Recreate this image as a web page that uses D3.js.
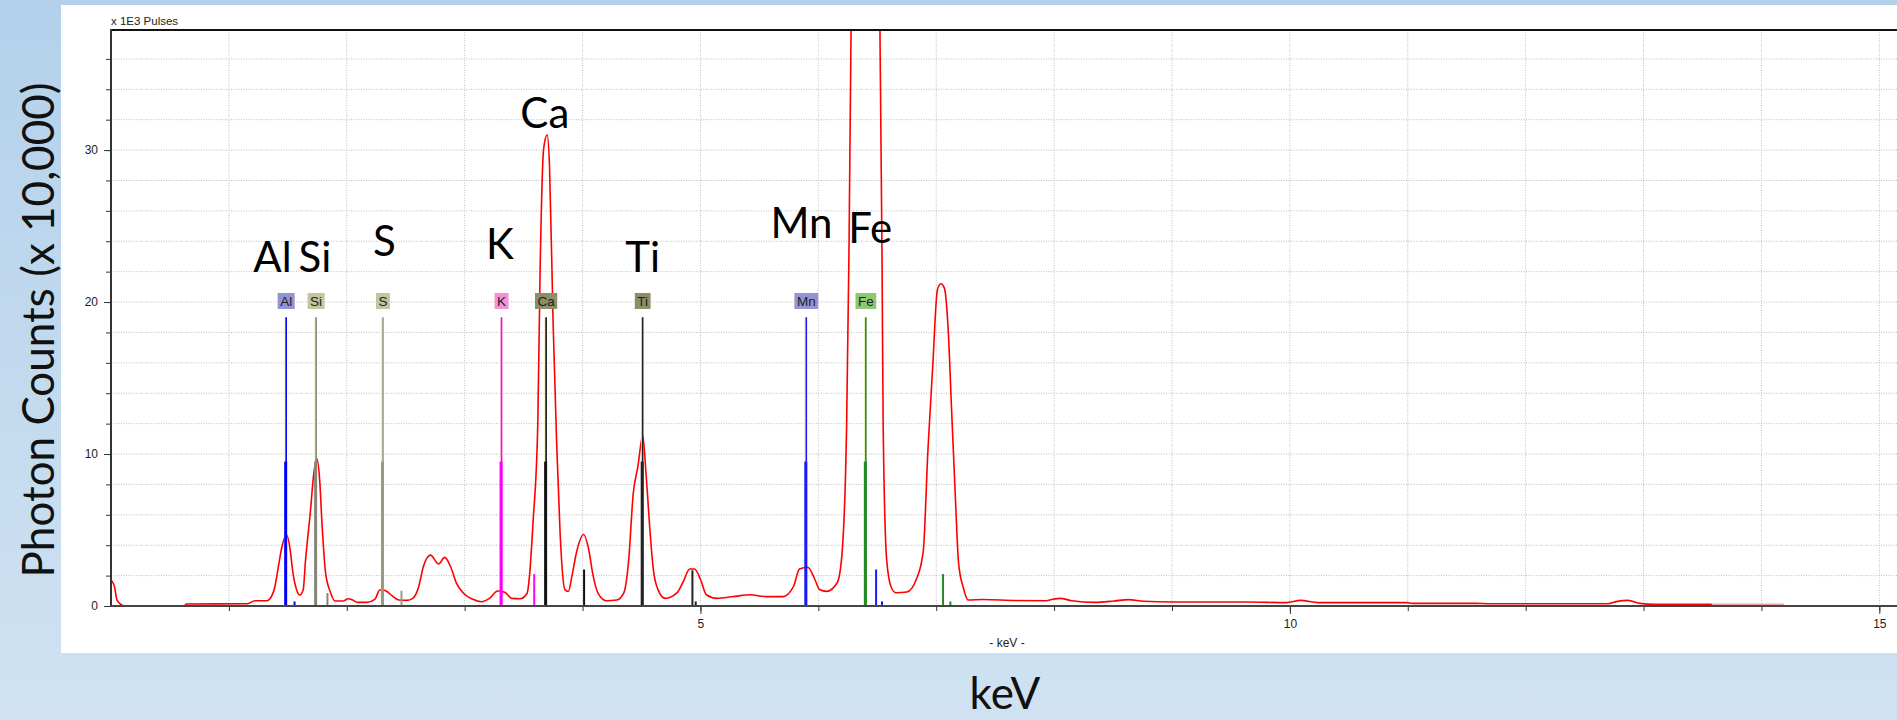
<!DOCTYPE html>
<html>
<head>
<meta charset="utf-8">
<script src="https://cdn.jsdelivr.net/npm/d3@7"></script>
<style>
  html, body { margin: 0; padding: 0; }
  body { width: 1897px; height: 720px; overflow: hidden; background: linear-gradient(#b3d1eb, #d0e2f2); }
  svg { display: block; }
</style>
</head>
<body>
<svg id="chart" width="1897" height="720"></svg>
<script>
'use strict';

// EDS spectrum, energy in keV, counts in x 1E3 pulses
const spectrumKeV = [
  0.00, 0.03, 0.05, 0.09, 0.12, 0.62, 0.64, 1.16, 1.22, 1.32,
  1.35, 1.39, 1.42, 1.45, 1.49, 1.52, 1.54, 1.58, 1.60, 1.63,
  1.65, 1.69, 1.72, 1.745, 1.77, 1.79, 1.82, 1.86, 1.90, 1.97,
  2.01, 2.05, 2.09, 2.17, 2.24, 2.28, 2.31, 2.34, 2.38, 2.44,
  2.51, 2.56, 2.61, 2.65, 2.71, 2.78, 2.83, 2.88, 2.93, 2.99,
  3.07, 3.14, 3.21, 3.28, 3.34, 3.40, 3.47, 3.53, 3.55, 3.58,
  3.62, 3.64, 3.67, 3.70, 3.72, 3.75, 3.78, 3.81, 3.85, 3.88,
  3.91, 3.95, 4.01, 4.05, 4.09, 4.13, 4.20, 4.29, 4.35, 4.39,
  4.43, 4.47, 4.51, 4.54, 4.57, 4.60, 4.64, 4.70, 4.80, 4.85,
  4.91, 4.95, 5.00, 5.05, 5.14, 5.28, 5.42, 5.56, 5.70, 5.79,
  5.84, 5.91, 5.97, 6.01, 6.07, 6.16, 6.20, 6.24, 6.26, 6.28,
  6.32, 6.36, 6.40, 6.44, 6.48, 6.52, 6.54, 6.55, 6.58, 6.62,
  6.66, 6.75, 6.83, 6.89, 6.93, 6.97, 7.01, 7.04, 7.07, 7.10,
  7.13, 7.16, 7.19, 7.23, 7.27, 7.40, 7.68, 7.93, 8.00, 8.05,
  8.15, 8.34, 8.51, 8.63, 8.76, 9.00, 9.64, 9.97, 10.09, 10.24,
  10.99, 11.04, 11.58, 11.68, 12.70, 12.77, 12.87, 12.97, 13.09, 13.58
];
const spectrumCounts = [
  1.70, 1.27, 0.40, 0.07, 0, 0, 0.13, 0.15, 0.35, 0.35,
  0.50, 1.27, 2.60, 3.90, 4.67, 3.70, 2.37, 0.94, 0.72, 1.05,
  3.00, 6.10, 8.70, 9.70, 8.30, 5.40, 2.20, 0.94, 0.33, 0.33,
  0.48, 0.40, 0.24, 0.24, 0.46, 1.05, 1.05, 0.95, 0.70, 0.40,
  0.37, 0.50, 1.27, 2.60, 3.35, 2.76, 3.20, 2.60, 1.50, 0.84,
  0.44, 0.28, 0.50, 0.99, 0.90, 0.50, 0.48, 0.84, 1.98, 5.50,
  11.9, 22.1, 30.1, 31.0, 28.9, 18.7, 10.8, 4.70, 1.08, 0.96,
  1.98, 3.57, 4.70, 3.80, 1.98, 0.86, 0.35, 0.39, 0.86, 2.90,
  7.40, 9.20, 11.2, 8.55, 5.15, 2.43, 1.08, 0.50, 0.86, 1.53,
  2.43, 2.43, 1.76, 0.74, 0.50, 0.62, 0.74, 0.62, 0.62, 1.30,
  2.43, 2.55, 1.76, 1.08, 0.96, 1.53, 3.35, 11.9, 23.3, 40,
  80, 118, 135, 118, 80, 40, 23.3, 11.9, 3.0, 1.2,
  0.87, 0.92, 1.73, 3.6, 10.3, 15.7, 20.8, 21.2, 20.9, 18.4,
  13.0, 7.6, 2.8, 1.2, 0.39, 0.43, 0.36, 0.35, 0.46, 0.50,
  0.35, 0.24, 0.33, 0.42, 0.31, 0.26, 0.26, 0.22, 0.37, 0.22,
  0.22, 0.17, 0.17, 0.15, 0.15, 0.29, 0.37, 0.17, 0.11, 0.11
];
// faint end of the acquisition
const tailKeV = [13.58, 14.19];
const tailCounts = [0.11, 0.11];

// element markers (K alpha / K beta)
const elements = ['Al', 'Si', 'S', 'K', 'Ca', 'Ti', 'Mn', 'Fe'];
const alphaKeV = [1.486, 1.740, 2.307, 3.313, 3.691, 4.510, 5.898, 6.403];
const alphaCounts = [19, 19, 19, 19, 19, 19, 19, 19];
const betaKeV = [1.557, 1.836, 2.464, 3.590, 4.013, 4.932, 6.490, 7.058];
const betaCounts = [0.3, 0.85, 1.0, 2.1, 2.4, 2.35, 2.4, 2.1];
const extraEl = ['Ti', 'Mn', 'Fe'];
const extraKeV = [4.96, 6.54, 7.12];
const extraCounts = [0.3, 0.3, 0.3];

// big annotations, anchored in data units
const labelKeV = [1.37, 1.73, 2.32, 3.30, 3.68, 4.51, 5.857, 6.44];
const labelCounts = [22.0, 22.0, 23.0, 22.8, 31.45, 22.0, 24.2, 23.9];

const yTicks = [0, 10, 20, 30];
const xTicks = [5, 10, 15];

const lineColor = {
  Al: '#0000ff', Si: '#85857a', S: '#9a9a80', K: '#ff00ff',
  Ca: '#111111', Ti: '#222222', Mn: '#1a1aff', Fe: '#238b23'
};
const tagColor = {
  Al: '#9494d2', Si: '#c4c49e', S: '#c4c49e', K: '#f291d6',
  Ca: '#8e8e66', Ti: '#8e8e66', Mn: '#9494d2', Fe: '#8ec872'
};

const W = 1897;
const H = 720;
const plot = { left: 111, top: 30, right: 1897, bottom: 606 };

const svg = d3.select('#chart');

const x = d3.scaleLinear()
    .domain([0, 15.15])
    .range([plot.left, plot.right]);
const y = d3.scaleLinear()
    .domain([0, 37.9])
    .range([plot.bottom, plot.top]);

// white panel
svg.append('rect')
    .attr('x', 61)
    .attr('y', 5)
    .attr('width', W - 61 + 10)
    .attr('height', 648)
    .attr('fill', '#ffffff');

svg.append('clipPath')
    .attr('id', 'plot-clip')
    .append('rect')
    .attr('x', plot.left)
    .attr('y', plot.top)
    .attr('width', plot.right - plot.left + 10)
    .attr('height', plot.bottom - plot.top);

// grid
const grid = svg.append('g');
grid.selectAll('line.v')
    .data(d3.range(1, 16))
    .enter().append('line')
    .attr('class', 'v')
    .attr('x1', (d) => x(d))
    .attr('x2', (d) => x(d))
    .attr('y1', plot.top)
    .attr('y2', plot.bottom)
    .attr('stroke', '#bdbdbd')
    .attr('stroke-dasharray', '1,1.5');
grid.selectAll('line.h')
    .data(d3.range(2, 38, 2))
    .enter().append('line')
    .attr('class', 'h')
    .attr('x1', plot.left)
    .attr('x2', plot.right)
    .attr('y1', (d) => y(d))
    .attr('y2', (d) => y(d))
    .attr('stroke', '#bdbdbd')
    .attr('stroke-dasharray', '1,1.5');

const marks = svg.append('g').attr('clip-path', 'url(#plot-clip)');

// spectrum
const line = d3.line()
    .x((d) => x(d[0]))
    .y((d) => y(d[1]))
    .curve(d3.curveMonotoneX);

marks.append('path')
    .datum(d3.zip(spectrumKeV, spectrumCounts))
    .attr('fill', 'none')
    .attr('stroke', '#ff0000')
    .attr('stroke-width', 1.6)
    .attr('d', line);
marks.append('path')
    .datum(d3.zip(tailKeV, tailCounts))
    .attr('fill', 'none')
    .attr('stroke', '#f4a0a0')
    .attr('stroke-width', 1.6)
    .attr('d', line);

// element marker lines
const markers = marks.append('g');
elements.forEach((el, i) => {
  const cx = x(alphaKeV[i]);
  markers.append('line')
      .attr('x1', cx - 1.2).attr('x2', cx - 1.2)
      .attr('y1', y(0)).attr('y2', y(alphaCounts[i]))
      .attr('stroke', '#ecebb4')
      .attr('stroke-width', 1);
  markers.append('line')
      .attr('x1', cx).attr('x2', cx)
      .attr('y1', y(0)).attr('y2', y(alphaCounts[i]))
      .attr('stroke', lineColor[el])
      .attr('stroke-width', 1.6);
  markers.append('line')
      .attr('x1', cx - 0.5).attr('x2', cx - 0.5)
      .attr('y1', y(0)).attr('y2', y(alphaCounts[i] / 2))
      .attr('stroke', lineColor[el])
      .attr('stroke-width', 3);
  markers.append('line')
      .attr('x1', x(betaKeV[i])).attr('x2', x(betaKeV[i]))
      .attr('y1', y(0)).attr('y2', y(betaCounts[i]))
      .attr('stroke', lineColor[el])
      .attr('stroke-width', 2);
});
extraEl.forEach((el, i) => {
  markers.append('line')
      .attr('x1', x(extraKeV[i])).attr('x2', x(extraKeV[i]))
      .attr('y1', y(0)).attr('y2', y(extraCounts[i]))
      .attr('stroke', lineColor[el])
      .attr('stroke-width', 2);
});

// element tags
const tags = svg.append('g');
elements.forEach((el, i) => {
  const cx = x(alphaKeV[i]);
  const cy = y(20.07);
  const g = tags.append('g');
  const box = g.append('rect');
  const t = g.append('text')
      .attr('x', cx)
      .attr('y', cy)
      .attr('dy', '0.36em')
      .attr('text-anchor', 'middle')
      .style('font-family', '"Liberation Sans", Arial, sans-serif')
      .style('font-size', '13.5px')
      .attr('fill', '#222')
      .text(el);
  const w = t.node().getComputedTextLength() + 5;
  box.attr('x', cx - w / 2)
      .attr('y', cy - 8)
      .attr('width', w)
      .attr('height', 16)
      .attr('fill', tagColor[el]);
});

// axes
const axisFont = (g) => g.selectAll('text')
    .style('font-family', '"Liberation Sans", Arial, sans-serif')
    .style('font-size', '12px')
    .attr('fill', '#222');

svg.append('g')
    .attr('transform', 'translate(' + plot.left + ',0)')
    .call(d3.axisLeft(y).tickValues(d3.range(0, 38, 2)).tickSize(5).tickFormat(''))
    .call((g) => g.select('.domain').remove())
    .call((g) => g.selectAll('line').attr('stroke', '#333'));
svg.append('g')
    .attr('transform', 'translate(' + plot.left + ',0)')
    .call(d3.axisLeft(y).tickValues(yTicks).tickSize(7).tickPadding(6).tickFormat(d3.format('d')))
    .call((g) => g.select('.domain').remove())
    .call((g) => g.selectAll('line').attr('stroke', '#333'))
    .call(axisFont);

svg.append('g')
    .attr('transform', 'translate(0,' + plot.bottom + ')')
    .call(d3.axisBottom(x).tickValues(d3.range(1, 16)).tickSize(5).tickFormat(''))
    .call((g) => g.select('.domain').remove())
    .call((g) => g.selectAll('line').attr('stroke', '#333'));
svg.append('g')
    .attr('transform', 'translate(0,' + plot.bottom + ')')
    .call(d3.axisBottom(x).tickValues(xTicks).tickSize(8).tickPadding(5).tickFormat(d3.format('d')))
    .call((g) => g.select('.domain').remove())
    .call((g) => g.selectAll('line').attr('stroke', '#333'))
    .call(axisFont);

// frame lines
svg.append('line')
    .attr('x1', plot.left).attr('x2', W)
    .attr('y1', plot.top).attr('y2', plot.top)
    .attr('stroke', '#111').attr('stroke-width', 2);
svg.append('line')
    .attr('x1', plot.left).attr('x2', plot.left)
    .attr('y1', plot.top - 1).attr('y2', plot.bottom + 1)
    .attr('stroke', '#333').attr('stroke-width', 2);
svg.append('line')
    .attr('x1', plot.left).attr('x2', W)
    .attr('y1', plot.bottom).attr('y2', plot.bottom)
    .attr('stroke', '#444').attr('stroke-width', 2);

// small captions
svg.append('text')
    .attr('x', plot.left)
    .attr('y', 25)
    .style('font-family', '"Liberation Sans", Arial, sans-serif')
    .style('font-size', '11.5px')
    .attr('fill', '#222')
    .text('x 1E3 Pulses');
svg.append('text')
    .attr('x', 1007)
    .attr('y', 647)
    .attr('text-anchor', 'middle')
    .style('font-family', '"Liberation Sans", Arial, sans-serif')
    .style('font-size', '12px')
    .attr('fill', '#222')
    .text('- keV -');

// big element annotations
svg.append('g')
    .selectAll('text')
    .data(elements)
    .enter().append('text')
    .attr('x', (d, i) => x(labelKeV[i]))
    .attr('y', (d, i) => y(labelCounts[i]))
    .attr('text-anchor', 'middle')
    .style('font-family', 'Lato, "Open Sans", sans-serif')
    .style('font-size', '42px')
    .attr('fill', '#000')
    .text((d) => d);

// outer axis titles
svg.append('text')
    .attr('transform', 'translate(54,330) rotate(-90)')
    .attr('text-anchor', 'middle')
    .style('font-family', 'Lato, "Open Sans", sans-serif')
    .style('font-size', '44px')
    .attr('fill', '#111')
    .text('Photon Counts (x 10,000)');
svg.append('text')
    .attr('x', 1005)
    .attr('y', 709)
    .attr('text-anchor', 'middle')
    .style('font-family', 'Lato, "Open Sans", sans-serif')
    .style('font-size', '44px')
    .attr('fill', '#111')
    .text('keV');
</script>
</body>
</html>
